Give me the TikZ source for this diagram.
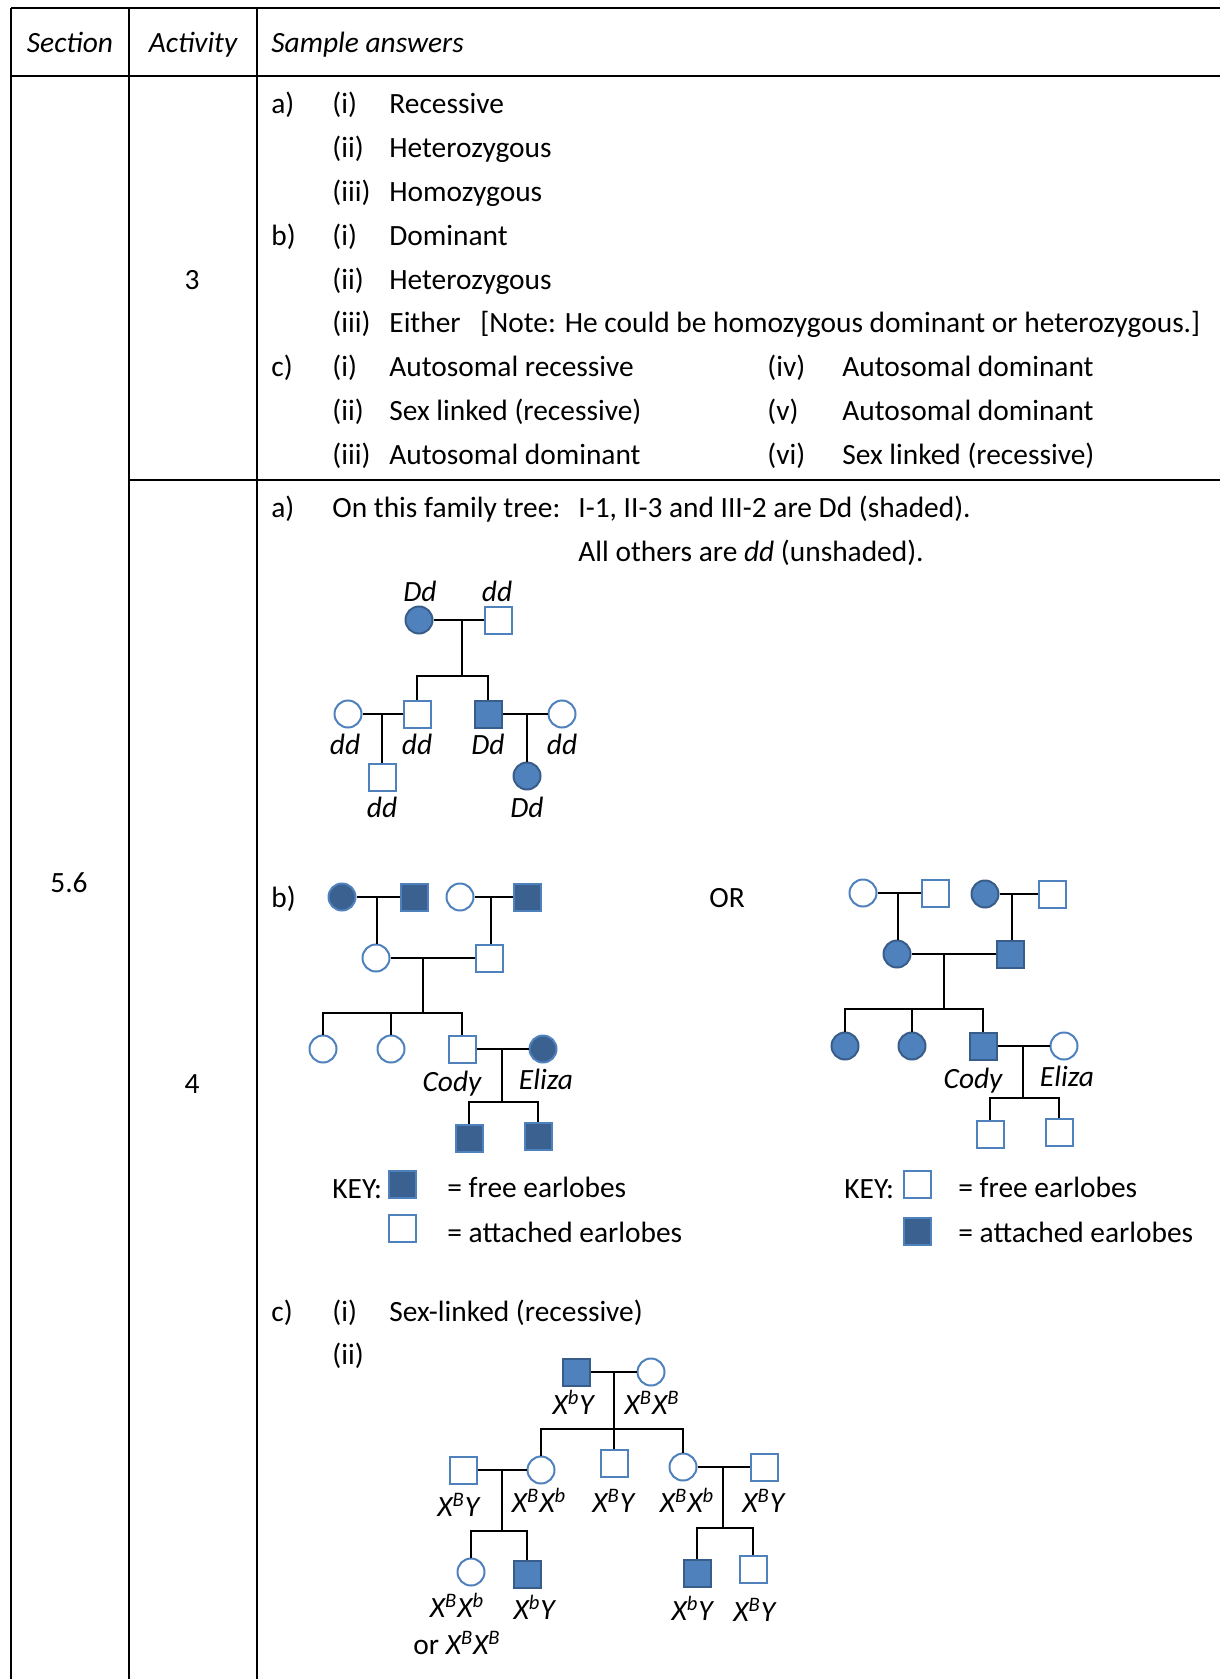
\documentclass[tikz,border=0pt]{standalone}
\usepackage{fontspec}
\setmainfont{Carlito}
\definecolor{pedblue}{HTML}{4F81BD}
\definecolor{pededge}{HTML}{385D8A}
\definecolor{pednavy}{HTML}{3A6190}
\newcommand{\gxy}[1]{\textit{X\textsuperscript{#1}Y}}
\newcommand{\gxx}[2]{\textit{X\textsuperscript{#1}X\textsuperscript{#2}}}

\begin{document}
\begin{tikzpicture}[x=0.5pt,y=-0.5pt,
    every node/.style={font=\fontsize{14.7}{17}\selectfont},
    txt/.style={anchor=mid west,inner sep=0pt,yshift=-2.5pt},
    ctr/.style={anchor=mid,inner sep=0pt,yshift=-2.5pt},
    male/.style={rectangle,draw=pedblue,fill=white,line width=1pt,minimum size=13.5pt,inner sep=0pt},
    female/.style={circle,draw=pedblue,fill=white,line width=1pt,minimum size=13.5pt,inner sep=0pt},
    hit/.style={fill=pedblue,draw=pededge},
    deep/.style={fill=pednavy,draw=pedblue},
    link/.style={line width=0.9pt},
    rule/.style={line width=1pt}]
            \useasboundingbox (0,0) rectangle (1220,1679);

            %table
            \draw[rule] (11,8)--(1220,8);

            \draw[rule] (11,76)--(1220,76);

            \draw[rule] (129,480)--(1220,480);

            \draw[rule] (11,8)--(11,1679);

            \draw[rule] (129,8)--(129,1679);

            \draw[rule] (257,8)--(257,1679);

            \node[ctr] (hsec) at (70,43) {\itshape Section};

            \node[ctr] (hact) at (193,43) {\itshape Activity};

            \node[txt] (hans) at (271,43) {\itshape Sample answers};

            \node[ctr] (sec) at (69,883) {5.6};

            \node[ctr] (act3) at (192,280) {3};

            \node[ctr] (act4) at (192,1084) {4};

            %activity 3
            \node[txt] (qa) at (271,104) {a)};
            \node[txt] (qa1) at (332,104) {(i)};
            \node[txt] (qa1t) at (389,104) {Recessive};
            \node[txt] (qa2) at (332,148) {(ii)};
            \node[txt] (qa2t) at (389,148) {Heterozygous};
            \node[txt] (qa3) at (332,192) {(iii)};
            \node[txt] (qa3t) at (389,192) {Homozygous};

            \node[txt] (qb) at (271,236) {b)};
            \node[txt] (qb1) at (332,236) {(i)};
            \node[txt] (qb1t) at (389,236) {Dominant};
            \node[txt] (qb2) at (332,280) {(ii)};
            \node[txt] (qb2t) at (389,280) {Heterozygous};
            \node[txt] (qb3) at (332,323) {(iii)};
            \node[txt] (qb3t) at (389,323) {Either};
            \node[txt] (qb3n) at (480,323) {[Note: He could be homozygous dominant or heterozygous.]};

            \node[txt] (qc) at (271,367) {c)};
            \node[txt] (qc1) at (332,367) {(i)};
            \node[txt] (qc1t) at (389,367) {Autosomal recessive};
            \node[txt] (qc2) at (332,411) {(ii)};
            \node[txt] (qc2t) at (389,411) {Sex linked (recessive)};
            \node[txt] (qc3) at (332,455) {(iii)};
            \node[txt] (qc3t) at (389,455) {Autosomal dominant};
            \node[txt] (qc4) at (767,367) {(iv)};
            \node[txt] (qc4t) at (842,367) {Autosomal dominant};
            \node[txt] (qc5) at (767,411) {(v)};
            \node[txt] (qc5t) at (842,411) {Autosomal dominant};
            \node[txt] (qc6) at (767,455) {(vi)};
            \node[txt] (qc6t) at (842,455) {Sex linked (recessive)};

            %activity 4 a)
            \node[txt] (ra) at (271,508) {a)};
            \node[txt] (ra1) at (332,508) {On this family tree:};
            \node[txt] (ra2) at (578,508) {I-1, II-3 and III-2 are Dd (shaded).};
            \node[txt] (ra3) at (578,552) {All others are \textit{dd} (unshaded).};

            \node[female,hit] (a11) at (419,620) {};
            \node[male] (a12) at (498,620) {};
            \node[female] (a21) at (348,714) {};
            \node[male] (a22) at (417,714) {};
            \node[male,hit] (a23) at (488,714) {};
            \node[female] (a24) at (562,714) {};
            \node[male] (a31) at (382,777) {};
            \node[female,hit] (a32) at (527,776) {};

            \coordinate (am1) at (462,620);
            \coordinate (ab1) at (462,676);
            \coordinate (am2) at (382,714);
            \coordinate (am3) at (527,714);

            \draw[link] (a11)--(a12);
            \draw[link] (am1)--(ab1);
            \draw[link] (a22.north) |- (ab1) -| (a23.north);
            \draw[link] (a21)--(a22);
            \draw[link] (am2)--(a31);
            \draw[link] (a23)--(a24);
            \draw[link] (am3)--(a32);

            \node[ctr] (la11) at (420,592) {\itshape Dd};
            \node[ctr] (la12) at (497,592) {\itshape dd};
            \node[ctr] (la21) at (345,745) {\itshape dd};
            \node[ctr] (la22) at (417,745) {\itshape dd};
            \node[ctr] (la23) at (488,745) {\itshape Dd};
            \node[ctr] (la24) at (562,745) {\itshape dd};
            \node[ctr] (la31) at (382,808) {\itshape dd};
            \node[ctr] (la32) at (527,808) {\itshape Dd};

            %activity 4 b) first tree
            \node[txt] (rb) at (271,898) {b)};
            \node[ctr] (ror) at (727,898) {OR};

            \node[female,deep] (b11) at (342,897) {};
            \node[male,deep] (b12) at (414,897) {};
            \node[female] (b13) at (460,897) {};
            \node[male,deep] (b14) at (527,897) {};
            \node[female] (b21) at (376,958) {};
            \node[male] (b22) at (489,958) {};
            \node[female] (b31) at (323,1049) {};
            \node[female] (b32) at (391,1049) {};
            \node[male] (b33) at (462,1049) {};
            \node[female,deep] (b34) at (543,1049) {};
            \node[male,deep] (b41) at (469,1138) {};
            \node[male,deep] (b42) at (538,1136) {};

            \coordinate (bm1) at (377,897);
            \coordinate (bm2) at (491,897);
            \coordinate (bm3) at (423,958);
            \coordinate (bb3) at (423,1013);
            \coordinate (bm4) at (502,1049);
            \coordinate (bb4) at (502,1102);

            \draw[link] (b11)--(b12);
            \draw[link] (bm1)--(bm1 |- b21.north);
            \draw[link] (b13)--(b14);
            \draw[link] (bm2)--(bm2 |- b22.north);
            \draw[link] (b21)--(b22);
            \draw[link] (bm3)--(bb3);
            \draw[link] (b31.north) |- (bb3) -| (b33.north);
            \draw[link] (b32.north)--(b32.north |- bb3);
            \draw[link] (b33)--(b34);
            \draw[link] (bm4)--(bb4);
            \draw[link] (b41.north) |- (bb4) -| (b42.north);

            \node[ctr] (lb33) at (452,1082) {\itshape Cody};
            \node[ctr] (lb34) at (546,1080) {\itshape Eliza};

            \node[txt] (kb) at (332,1189) {KEY:};
            \node[male,deep] (kb1) at (402,1184) {};
            \node[txt] (kb1t) at (447,1188) {= free earlobes};
            \node[male] (kb2) at (402,1228) {};
            \node[txt] (kb2t) at (447,1233) {= attached earlobes};

            %activity 4 b) second tree
            \node[female] (c11) at (863,893) {};
            \node[male] (c12) at (935,893) {};
            \node[female,hit] (c13) at (985,894) {};
            \node[male] (c14) at (1052,894) {};
            \node[female,hit] (c21) at (897,954) {};
            \node[male,hit] (c22) at (1010,954) {};
            \node[female,hit] (c31) at (845,1046) {};
            \node[female,hit] (c32) at (912,1046) {};
            \node[male,hit] (c33) at (983,1046) {};
            \node[female] (c34) at (1064,1046) {};
            \node[male] (c41) at (990,1134) {};
            \node[male] (c42) at (1059,1132) {};

            \coordinate (cm1) at (898,893);
            \coordinate (cm2) at (1012,894);
            \coordinate (cm3) at (944,954);
            \coordinate (cb3) at (944,1009);
            \coordinate (cm4) at (1023,1046);
            \coordinate (cb4) at (1023,1098);

            \draw[link] (c11)--(c12);
            \draw[link] (cm1)--(cm1 |- c21.north);
            \draw[link] (c13)--(c14);
            \draw[link] (cm2)--(cm2 |- c22.north);
            \draw[link] (c21)--(c22);
            \draw[link] (cm3)--(cb3);
            \draw[link] (c31.north) |- (cb3) -| (c33.north);
            \draw[link] (c32.north)--(c32.north |- cb3);
            \draw[link] (c33)--(c34);
            \draw[link] (cm4)--(cb4);
            \draw[link] (c41.north) |- (cb4) -| (c42.north);

            \node[ctr] (lc33) at (973,1079) {\itshape Cody};
            \node[ctr] (lc34) at (1067,1077) {\itshape Eliza};

            \node[txt] (kc) at (844,1189) {KEY:};
            \node[male] (kc1) at (917,1184) {};
            \node[txt] (kc1t) at (958,1188) {= free earlobes};
            \node[male,deep] (kc2) at (917,1231) {};
            \node[txt] (kc2t) at (958,1233) {= attached earlobes};

            %activity 4 c)
            \node[txt] (rc) at (271,1312) {c)};
            \node[txt] (rc1) at (332,1312) {(i)};
            \node[txt] (rc1t) at (389,1312) {Sex-linked (recessive)};
            \node[txt] (rc2) at (332,1355) {(ii)};

            \node[male,hit] (d11) at (576,1372) {};
            \node[female] (d12) at (651,1372) {};
            \node[male] (d20) at (463,1470) {};
            \node[female] (d21) at (541,1470) {};
            \node[male] (d22) at (614,1463) {};
            \node[female] (d23) at (683,1467) {};
            \node[male] (d24) at (764,1467) {};
            \node[female] (d31) at (471,1572) {};
            \node[male,hit] (d32) at (527,1574) {};
            \node[male,hit] (d33) at (697,1573) {};
            \node[male] (d34) at (753,1569) {};

            \coordinate (dm1) at (614,1372);
            \coordinate (db1) at (614,1429);
            \coordinate (dm2) at (502,1470);
            \coordinate (db2) at (502,1531);
            \coordinate (dm3) at (723,1467);
            \coordinate (db3) at (723,1528);

            \draw[link] (d11)--(d12);
            \draw[link] (dm1)--(d22.north);
            \draw[link] (d21.north) |- (db1) -| (d23.north);
            \draw[link] (d20)--(d21);
            \draw[link] (dm2)--(db2);
            \draw[link] (d31.north) |- (db2) -| (d32.north);
            \draw[link] (d23)--(d24);
            \draw[link] (dm3)--(db3);
            \draw[link] (d33.north) |- (db3) -| (d34.north);

            \node[ctr] (ld11) at (574,1405) {\gxy{b}};
            \node[ctr] (ld12) at (652,1405) {\gxx{B}{B}};
            \node[ctr] (ld20) at (459,1507) {\gxy{B}};
            \node[ctr] (ld21) at (539,1503) {\gxx{B}{b}};
            \node[ctr] (ld22) at (614,1503) {\gxy{B}};
            \node[ctr] (ld23) at (687,1503) {\gxx{B}{b}};
            \node[ctr] (ld24) at (764,1503) {\gxy{B}};
            \node[ctr] (ld31) at (457,1608) {\gxx{B}{b}};
            \node[ctr] (ld31b) at (457,1645) {or \gxx{B}{B}};
            \node[ctr] (ld32) at (535,1610) {\gxy{b}};
            \node[ctr] (ld33) at (693,1611) {\gxy{b}};
            \node[ctr] (ld34) at (755,1612) {\gxy{B}};
        \end{tikzpicture}
\end{document}
